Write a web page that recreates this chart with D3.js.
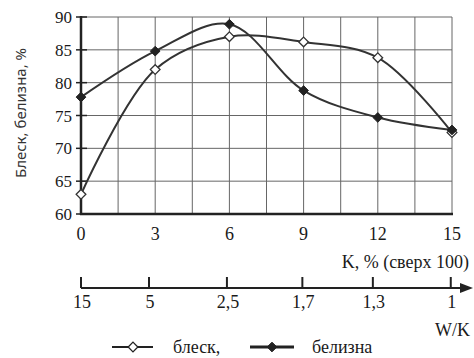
<!DOCTYPE html>
<html>
<head>
<meta charset="utf-8">
<script src="https://cdn.jsdelivr.net/npm/d3@7"></script>
</head>
<body style="margin:0;background:#fff">
<script>
  'use strict';

  // K, % (сверх 100)
  var kValues = [0, 3, 6, 9, 12, 15];
  // блеск, %
  var glossValues = [63, 82, 87, 86.2, 83.8, 72.4];
  // белизна, %
  var whiteValues = [77.8, 84.8, 88.9, 78.8, 74.7, 72.8];
  // secondary axis W/K (position on K scale, label)
  var wkPos = [0, 2.75, 5.9, 8.95, 11.8, 14.95];
  var wkLabels = ['15', '5', '2,5', '1,7', '1,3', '1'];
  var yTicks = [60, 65, 70, 75, 80, 85, 90];
  var xGrid = d3.range(0, 15.01, 1.5);

  var W = 474, H = 358;
  var svg = d3.select('body').append('svg')
    .attr('width', W).attr('height', H)
    .attr('font-family', 'Liberation Serif')
    .style('display', 'block');

  var x = d3.scaleLinear().domain([0, 15]).range([81, 452]);
  var y = d3.scaleLinear().domain([60, 90]).range([214, 17]);

  function label(sel, size) {
    return sel.attr('font-family', 'Liberation Serif').attr('font-size', size || 18).attr('fill', '#1a1a1a');
  }

  // grid
  var grid = svg.append('g').attr('stroke', '#666').attr('stroke-width', 1);
  grid.selectAll('line.v').data(xGrid).enter().append('line')
    .attr('x1', d => x(d)).attr('x2', d => x(d))
    .attr('y1', y(60)).attr('y2', y(90));
  grid.selectAll('line.h').data(yTicks).enter().append('line')
    .attr('x1', x(0)).attr('x2', x(15))
    .attr('y1', d => y(d)).attr('y2', d => y(d));

  // frame: thick left and bottom axes
  svg.append('line').attr('x1', x(0)).attr('x2', x(0)).attr('y1', y(90) - 1).attr('y2', y(60) + 1)
    .attr('stroke', '#222').attr('stroke-width', 2.5);
  svg.append('line').attr('x1', x(0) - 1).attr('x2', x(15) + 1).attr('y1', y(60)).attr('y2', y(60))
    .attr('stroke', '#222').attr('stroke-width', 2.5);

  // y ticks
  svg.selectAll('line.yt').data(yTicks).enter().append('line')
    .attr('x1', x(0) - 5).attr('x2', x(0) + 6)
    .attr('y1', d => y(d)).attr('y2', d => y(d))
    .attr('stroke', '#222').attr('stroke-width', 1.5);
  label(svg.selectAll('text.yl').data(yTicks).enter().append('text'), 17)
    .attr('x', 72).attr('y', d => y(d) + 6)
    .attr('text-anchor', 'end')
    .text(d => d);

  // x tick labels
  label(svg.selectAll('text.xl').data(kValues).enter().append('text'))
    .attr('x', d => x(d)).attr('y', 240)
    .attr('text-anchor', 'middle')
    .text(d => d);
  label(svg.append('text'))
    .attr('x', 469).attr('y', 268).attr('text-anchor', 'end')
    .text('K, % (сверх 100)');

  // y title
  svg.append('text')
    .attr('transform', 'translate(26,113) rotate(-90)')
    .attr('text-anchor', 'middle')
    .attr('font-family', 'Noto Sans')
    .attr('font-size', 15)
    .attr('fill', '#333')
    .text('Блеск, белизна, %');

  // curves
  var line = d3.line().x(d => x(d[0])).y(d => y(d[1])).curve(d3.curveCatmullRom.alpha(0.5));
  var glossPts = kValues.map((k, i) => [k, glossValues[i]]);
  var whitePts = kValues.map((k, i) => [k, whiteValues[i]]);

  [whitePts, glossPts].forEach(function (pts) {
    svg.append('path').attr('d', line(pts))
      .attr('fill', 'none').attr('stroke', '#333').attr('stroke-width', 2);
  });

  var diamond = d3.symbol().type(d3.symbolDiamond2).size(60);
  svg.selectAll('path.gm').data(glossPts).enter().append('path')
    .attr('d', diamond)
    .attr('transform', d => 'translate(' + x(d[0]) + ',' + y(d[1]) + ')')
    .attr('fill', '#fff').attr('stroke', '#333').attr('stroke-width', 1.3);
  svg.selectAll('path.wm').data(whitePts).enter().append('path')
    .attr('d', diamond)
    .attr('transform', d => 'translate(' + x(d[0]) + ',' + y(d[1]) + ')')
    .attr('fill', '#222').attr('stroke', '#222');

  // secondary W/K axis
  var axY = 288;
  svg.append('line').attr('x1', x(0)).attr('x2', 462).attr('y1', axY).attr('y2', axY)
    .attr('stroke', '#222').attr('stroke-width', 2);
  svg.append('path').attr('d', 'M460,' + (axY - 5) + 'L473,' + axY + 'L460,' + (axY + 5) + 'Z')
    .attr('fill', '#222');
  svg.selectAll('line.wt').data(wkPos).enter().append('line')
    .attr('x1', d => x(d)).attr('x2', d => x(d))
    .attr('y1', axY - 11).attr('y2', axY)
    .attr('stroke', '#222').attr('stroke-width', 2);
  label(svg.selectAll('text.wl').data(wkPos).enter().append('text'))
    .attr('x', d => x(d) + 1).attr('y', axY + 20)
    .attr('text-anchor', 'middle')
    .text((d, i) => wkLabels[i]);
  label(svg.append('text'))
    .attr('x', 470).attr('y', 336).attr('text-anchor', 'end')
    .text('W/K');

  // legend
  var lg = svg.append('g');
  lg.append('line').attr('x1', 112).attr('x2', 153).attr('y1', 347).attr('y2', 347)
    .attr('stroke', '#222').attr('stroke-width', 2);
  lg.append('path').attr('d', diamond).attr('transform', 'translate(133,347)')
    .attr('fill', '#fff').attr('stroke', '#222').attr('stroke-width', 1.3);
  label(lg.append('text')).attr('x', 173).attr('y', 353).text('блеск,');
  lg.append('line').attr('x1', 250).attr('x2', 294).attr('y1', 347).attr('y2', 347)
    .attr('stroke', '#222').attr('stroke-width', 3);
  lg.append('path').attr('d', diamond).attr('transform', 'translate(272,347)')
    .attr('fill', '#222').attr('stroke', '#222');
  label(lg.append('text')).attr('x', 312).attr('y', 353).text('белизна');
</script>
</body>
</html>
